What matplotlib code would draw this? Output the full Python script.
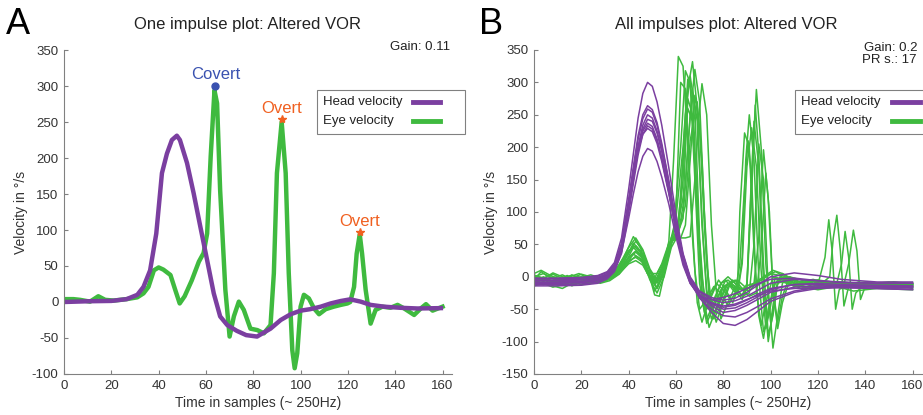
import matplotlib
matplotlib.use("Agg")
import matplotlib.pyplot as plt
from matplotlib.lines import Line2D
from matplotlib.patches import Rectangle

plt.rcParams['font.family'] = ['Liberation Sans', 'DejaVu Sans']
plt.rcParams['axes.unicode_minus'] = False

PURPLE = "#7b3fa0"
GREEN = "#3fba3f"
BLUE = "#3a52b0"
ORANGE = "#f06020"
GREY = "#333333"

# ---- panel A: one impulse ----
head_a_t = [0, 10, 20, 26.5, 31, 33.6, 36.4, 39, 41.4, 43.5, 45.6, 47.7, 49, 52, 54.8, 57.6,
            60.5, 63.3, 66, 69, 73, 77, 81.6, 87.3, 91.6, 95.8, 100, 104, 108.5, 112.7,
            117, 121, 125.4, 129.6, 135.3, 142, 149.4, 159.3]
head_a_v = [0, 1, 1.5, 4, 10, 21, 44, 95, 179, 206, 225, 231, 225, 193, 151, 105,
            58, 12, -20, -32, -40, -46, -48, -37, -25, -17, -12, -10, -6.5, -2,
            1.4, 3.7, 0.5, -4, -6.5, -8, -9, -8.5]

eye_a_t = [1, 4, 6.8, 11, 14.5, 17.4, 21, 26.5, 31, 33.6, 35.7, 38, 40, 42, 45, 47, 48.9,
           51, 54, 57, 59, 60.5, 62, 63.6, 64.7, 66, 68.2, 70, 71.8, 73.9, 76, 78.8,
           81.7, 84.5, 87.3, 88.7, 90, 92, 93.7, 95, 96.5, 97.5, 98.6, 100, 101.4,
           103.5, 105.7, 107.8, 110.6, 114, 117, 119.8, 121, 122.6, 123.7, 125, 126,
           127.5, 129.6, 131.7, 134.6, 138, 141, 143.8, 148, 150.8, 153, 155.8, 160]
eye_a_v = [4, 4, 3, 0.5, 8, 3, 2, 4, 6.5, 12, 21, 44, 48, 45, 37.5, 17, -2,
           8, 30, 56, 68, 95, 202, 294, 276, 155, 17, -48, -20, 0.5, -11, -37,
           -39, -43.5, -32, 40, 179, 250, 179, 40, -67, -92, -71, -6.5, 10,
           5, -9, -17, -10, -6.5, -4, -2, 0, 21, 67, 94, 67,
           17, -30, -11, -6.5, -8, -4, -9, -18, -9, -3, -12, -6.5]

covert_pts = [(64, 300)]
overt_pts = [(92, 254), (125, 97)]
gain_a = "Gain: 0.11"

# ---- panel B: all impulses ----
head_b_t = [0, 10, 20, 27, 31, 34, 37, 40, 42, 44, 46, 48, 50, 52, 54, 57, 60, 63, 66, 70,
            75, 80, 85, 90, 95, 100, 110, 120, 130, 145, 160]
head_b_1 = [-2, -2, -1, 2, 8, 22, 60, 135, 190, 245, 283, 300, 294, 270, 234, 168, 96, 36, 0, -22,
            -32, -36, -33, -24, -12, 0, 6, 2, -4, -8, -8]
head_b_2 = [-6, -6, -5, -2, 5, 18, 52, 120, 170, 218, 250, 264, 258, 238, 206, 148, 84, 32, -2, -24,
            -35, -40, -37, -30, -20, -10, -4, -6, -9, -10, -10]
head_b_3 = [-8, -8, -7, -4, 3, 15, 48, 115, 165, 212, 244, 259, 254, 234, 202, 146, 84, 30, -6, -30,
            -45, -55, -52, -44, -34, -24, -16, -14, -15, -16, -17]
head_b_4 = [-10, -10, -9, -6, 1, 13, 45, 110, 156, 202, 234, 250, 245, 225, 195, 140, 80, 28, -4, -27,
            -40, -47, -44, -36, -26, -18, -12, -12, -14, -15, -16]
head_b_5 = [-12, -12, -11, -8, -1, 10, 40, 105, 150, 196, 228, 243, 240, 222, 194, 142, 84, 34, -2, -32,
            -55, -72, -75, -66, -52, -38, -24, -18, -16, -18, -20]
head_b_6 = [-5, -5, -4, -1, 5, 16, 46, 108, 152, 195, 225, 237, 232, 213, 184, 132, 74, 24, -8, -33,
            -50, -60, -62, -55, -45, -34, -22, -16, -14, -14, -15]
head_b_7 = [-14, -14, -13, -10, -3, 8, 36, 98, 144, 188, 220, 233, 228, 210, 182, 130, 72, 22, -10, -30,
            -35, -32, -26, -18, -10, -4, -2, -6, -8, -10, -10]
head_b_8 = [-3, -3, -2, 1, 7, 19, 50, 112, 154, 196, 220, 229, 224, 206, 178, 128, 72, 24, -6, -28,
            -42, -50, -48, -40, -30, -20, -12, -10, -12, -13, -14]
head_b_9 = [-9, -9, -8, -5, 1, 12, 38, 90, 128, 162, 186, 198, 194, 178, 154, 112, 62, 18, -10, -30,
            -40, -45, -42, -35, -28, -22, -18, -17, -17, -18, -19]
head_b = [head_b_1, head_b_2, head_b_3, head_b_4, head_b_5, head_b_6, head_b_7, head_b_8, head_b_9]

eye_b_1 = [(0, -5), (3, 8), (6, 0), (10, -6), (14, 2), (18, -4), (22, -2), (26, -3), (30, 0), (34, 8),
           (38, 30), (42, 62), (45, 45), (48, 10), (51, -22), (54, 0), (57, 55), (59, 180), (61, 340),
           (63, 325), (65, 210), (67, 60), (69, -40), (71, -70), (74, -35), (77, -10), (80, -20),
           (83, -35), (86, -25), (88, 20), (90, 170), (92, 230), (94, 170), (96, 10), (98, -80),
           (100, -45), (102, 0), (105, -5), (110, -15), (115, -10), (120, -5), (125, -10), (130, -12),
           (140, -8), (150, -12), (160, -15)]
eye_b_2 = [(0, -12), (4, -8), (8, -14), (12, -18), (16, -10), (20, -8), (25, -6), (30, -4), (34, 5),
           (38, 22), (42, 52), (45, 40), (48, 12), (51, -28), (53, -30), (56, 20), (59, 70), (62, 200),
           (64, 318), (66, 300), (68, 150), (70, -10), (72, -55), (75, -30), (78, -5), (81, -20),
           (84, -40), (86, -20), (87, 100), (89, 222), (91, 200), (93, 40), (95, -60), (97, -95),
           (99, -50), (102, -10), (106, 0), (110, -10), (115, -18), (120, -12), (123, 30), (124.6, 88),
           (126, 40), (127.5, -50), (129, -20), (132, -10), (140, -15), (150, -10), (160, -18)]
eye_b_3 = [(0, 5), (3, 10), (7, 2), (11, -4), (15, 0), (19, 5), (23, -2), (27, -6), (31, -2), (35, 12),
           (39, 35), (42, 48), (45, 38), (48, 8), (51, -12), (54, 10), (57, 45), (60, 90), (63, 200),
           (65, 305), (67, 280), (69, 120), (71, -20), (73, -65), (76, -40), (79, -10), (82, -5),
           (85, -15), (88, -30), (90, -10), (92, 150), (94, 289), (96, 200), (98, 20), (100, -70),
           (102, -20), (105, 5), (109, -5), (113, -12), (118, -5), (124, -8), (130, -15), (140, -12),
           (150, -8), (160, -10)]
eye_b_4 = [(0, -8), (5, -3), (9, -10), (13, -5), (17, -12), (21, -6), (26, -8), (30, -5), (34, 2),
           (38, 18), (42, 45), (45, 35), (48, 5), (51, -8), (54, 15), (57, 50), (60, 62), (62, 120),
           (64, 250), (66, 310), (68, 260), (70, 60), (72, -40), (74, -78), (77, -50), (80, -15),
           (83, -10), (86, -25), (88, 30), (89.5, 180), (91, 250), (93, 180), (95, 0), (97, -85),
           (99, -60), (101, -15), (104, 0), (108, -10), (114, -20), (120, -15), (125, 0), (126.5, 60),
           (128, 95), (129.5, 40), (131, -45), (133, -15), (137, -8), (145, -15), (152, -8), (160, -12)]
eye_b_5 = [(0, -3), (4, -6), (8, -2), (12, -8), (16, -3), (20, -5), (24, -4), (28, -8), (32, -3),
           (36, 10), (40, 30), (43, 40), (46, 30), (49, 0), (52, -5), (55, 20), (58, 55), (61, 75),
           (63, 150), (65, 290), (67, 332), (69, 260), (71, 80), (73, -20), (75, -55), (78, -30),
           (81, -5), (84, -20), (87, -30), (90, -20), (93, -10), (95, 60), (97, 196), (99, 120),
           (101, -20), (103, -70), (105, -30), (108, 0), (112, -8), (118, -15), (124, -10),
           (130, -18), (140, -12), (150, -15), (160, -12)]
eye_b_6 = [(0, -10), (4, -4), (8, -12), (12, -6), (16, -14), (20, -8), (25, -10), (30, -6), (34, 0),
           (38, 15), (42, 35), (45, 28), (48, 5), (51, -2), (54, 20), (57, 52), (60, 60), (63, 90),
           (65, 200), (67, 290), (69, 240), (71, 90), (73, -30), (75, -65), (78, -40), (81, -15),
           (84, -5), (87, -20), (90, -15), (91.5, 120), (93, 240), (95, 170), (97, -10), (99, -100),
           (101, -55), (103, -5), (107, -10), (112, -15), (118, -8), (124, -12), (128, -10), (130, 20),
           (131.5, 70), (133, 30), (134.5, -50), (136, -25), (140, -10), (150, -15), (160, -10)]
eye_b_7 = [(0, 2), (4, -2), (8, 4), (12, -3), (16, 2), (20, -1), (24, 3), (28, -2), (32, 2), (36, 10),
           (40, 25), (43, 30), (46, 22), (49, 5), (52, 5), (55, 25), (58, 55), (62, 60), (64, 80),
           (66, 180), (68, 280), (70, 230), (72, 80), (74, -30), (76, -60), (79, -35), (82, -10),
           (85, -15), (88, -30), (91, -25), (93, 50), (95, 205), (97, 150), (99, -20), (101, -110),
           (103, -60), (105, -10), (108, 0), (113, -5), (119, -12), (125, -8), (132, -12), (140, -15),
           (150, -10), (160, -13)]
eye_b_8 = [(0, -14), (4, -10), (8, -16), (12, -12), (16, -8), (20, -12), (24, -10), (28, -8), (32, -4),
           (36, 5), (40, 20), (43, 25), (46, 18), (49, -2), (52, -18), (55, 10), (58, 58), (61, 60),
           (64, 60), (66, 62), (68, 150), (70, 260), (71, 298), (73, 250), (75, 80), (77, -20),
           (79, -65), (82, -40), (85, -15), (88, -20), (91, -30), (94, -25), (96, 40), (98, 160),
           (99.5, 100), (101, -20), (103, -80), (105, -40), (108, -5), (113, -15), (120, -20),
           (128, -15), (135, -22), (145, -18), (160, -20)]
eye_b_9 = [(0, 0), (4, 5), (8, -2), (12, 3), (16, -4), (20, 0), (24, -3), (28, 0), (32, 3), (36, 15),
           (40, 40), (43, 48), (46, 35), (49, 10), (52, -10), (55, 10), (58, 50), (61, 80), (63, 180),
           (65, 260), (67, 240), (69, 100), (71, 0), (73, -50), (76, -35), (79, -10), (82, 0),
           (85, -10), (88, -20), (92, -15), (96, -5), (100, 5), (104, 2), (108, -8), (114, -12),
           (120, -10), (126, -15), (131, -12), (133, 20), (135, 72), (136.5, 40), (138, -35),
           (140, -15), (146, -10), (152, -14), (160, -12)]
eye_b_10 = [(0, -6), (4, 0), (8, -8), (12, -2), (16, -6), (20, -3), (24, -8), (28, -4), (32, 0),
            (36, 12), (40, 28), (43, 38), (46, 28), (49, 0), (52, -8), (55, 15), (58, 52), (61, 70),
            (64, 110), (66, 210), (69, 270), (71, 180), (73, 20), (75, -40), (77, -70), (80, -40),
            (83, -10), (86, -5), (89, -15), (93, -10), (97, 0), (101, 10), (105, 5), (110, -5),
            (115, -10), (120, -5), (126, -8), (132, -15), (140, -10), (150, -12), (160, -16)]
eye_b_11 = [(0, -2), (4, -7), (8, 0), (12, -5), (16, 3), (20, -4), (24, -1), (28, -5), (32, 1),
            (36, 14), (40, 36), (43, 55), (46, 40), (49, 8), (52, -18), (55, 5), (58, 48), (60, 95),
            (62, 300), (64, 290), (66, 140), (68, 10), (70, -50), (73, -35), (76, -15), (79, -25),
            (82, -45), (85, -25), (87, 20), (89, 140), (90.5, 210), (92, 150), (94, -20), (96, -75),
            (98, -40), (101, 0), (105, -8), (110, -12), (118, -6), (126, -12), (135, -10), (145, -14),
            (160, -13)]
eye_b_12 = [(0, -9), (4, -12), (8, -6), (12, -10), (16, -5), (20, -9), (24, -6), (28, -10), (32, -6),
            (36, 4), (40, 22), (43, 32), (46, 25), (49, -5), (52, -25), (55, 0), (58, 45), (61, 65),
            (63, 110), (65, 275), (67, 250), (69, 90), (71, -30), (73, -72), (76, -45), (79, -20),
            (82, -10), (85, -20), (88, -35), (90, -15), (92, 130), (93.5, 265), (95, 190), (97, 20),
            (99, -90), (101, -60), (103, -10), (107, -5), (112, -14), (118, -18), (125, -10),
            (132, -14), (142, -18), (152, -12), (160, -15)]
eye_b_13 = [(0, 3), (4, -3), (8, 6), (12, 0), (16, -2), (20, 4), (24, 0), (28, -3), (32, 4), (36, 18),
            (40, 45), (43, 60), (46, 42), (49, 12), (52, -5), (55, 18), (58, 60), (61, 85), (64, 140),
            (66, 250), (68, 320), (70, 270), (72, 100), (74, -20), (76, -65), (79, -45), (82, -15),
            (85, -5), (88, -18), (91, -22), (94, -10), (98, 0), (102, 8), (106, 0), (112, -8),
            (118, -4), (124, -10), (130, -8), (140, -12), (150, -9), (160, -11)]
eye_b = [eye_b_1, eye_b_2, eye_b_3, eye_b_4, eye_b_5, eye_b_6, eye_b_7, eye_b_8, eye_b_9, eye_b_10,
         eye_b_11, eye_b_12, eye_b_13]
gain_b = "Gain: 0.2\nPR s.: 17"

legend_labels = ["Head velocity", "Eye velocity"]
W, H = 923, 415


def px(x, y):
    return x / W, 1 - y / H


def style_axes(ax, ymin, ymax):
    ax.set_xlim(0, 164)
    ax.set_ylim(ymin, ymax)
    ax.set_xticks(range(0, 161, 20))
    ax.set_yticks(range(ymin, ymax + 1, 50))
    for s in ["top", "right"]:
        ax.spines[s].set_visible(False)
    for s in ["left", "bottom"]:
        ax.spines[s].set_color("#808080")
        ax.spines[s].set_linewidth(0.8)
    ax.tick_params(direction="in", length=3, color="#808080", labelsize=9.5, labelcolor=GREY, pad=4)
    ax.set_xlabel("Time in samples (~ 250Hz)", fontsize=10, color=GREY, labelpad=3)
    ax.set_ylabel("Velocity in °/s", fontsize=10, color=GREY, labelpad=3)


def draw_legend(x0, x1, hx0, hx1):
    # box drawn by hand so text sits left and line samples sit right
    y0, y1 = 90, 134
    fig.patches.append(Rectangle(px(x0, y1), (x1 - x0) / W, (y1 - y0) / H, transform=fig.transFigure,
                                 facecolor="white", edgecolor="#808080", lw=0.8, zorder=5))
    for lab, col, yy in zip(legend_labels, [PURPLE, GREEN], [102, 121]):
        fig.text(*px(x0 + 6, yy), lab, fontsize=9.5, color="#222222", ha="left", va="center", zorder=6)
        fig.lines.append(Line2D([hx0 / W, hx1 / W], [1 - yy / H] * 2, transform=fig.transFigure,
                                color=col, lw=3.5, zorder=6))


fig = plt.figure(figsize=(9.23, 4.15), dpi=100)
ax_a = fig.add_axes([64 / W, 1 - 374 / H, 388 / W, 324 / H])
ax_b = fig.add_axes([534 / W, 1 - 374 / H, 388 / W, 324 / H])

# panel A
style_axes(ax_a, -100, 350)
ax_a.plot(eye_a_t, eye_a_v, color=GREEN, lw=3.2, solid_joinstyle="round")
ax_a.plot(head_a_t, head_a_v, color=PURPLE, lw=3.2, solid_joinstyle="round")
for x, y in covert_pts:
    ax_a.plot(x, y, "o", color=BLUE, ms=5)
    ax_a.text(x, y + 5, "Covert", color=BLUE, fontsize=12, ha="center", va="bottom")
for x, y in overt_pts:
    ax_a.plot(x, y, "*", color=ORANGE, ms=6)
    ax_a.text(x, y + 4, "Overt", color=ORANGE, fontsize=12, ha="center", va="bottom")
fig.text(*px(247.5, 24), "One impulse plot: Altered VOR", fontsize=12, color="#222222",
         ha="center", va="center")
fig.text(*px(450, 47), gain_a, ha="right", va="center", fontsize=9.5, color="#222222")
fig.text(*px(6, 25), "A", fontsize=26, ha="left", va="center")
draw_legend(317, 465, 413, 440)

# panel B
style_axes(ax_b, -150, 350)
for tr in eye_b:
    ax_b.plot([p[0] for p in tr], [p[1] for p in tr], color=GREEN, lw=1.1)
for tr in head_b:
    ax_b.plot(head_b_t, tr, color=PURPLE, lw=1.1)
fig.text(*px(726, 24), "All impulses plot: Altered VOR", fontsize=12, color="#222222",
         ha="center", va="center")
fig.text(*px(917, 54), gain_b, ha="right", va="center", fontsize=9.5, color="#222222",
         linespacing=1.0)
fig.text(*px(479, 25), "B", fontsize=26, ha="left", va="center")
draw_legend(795, 930, 892, 920)

fig.savefig("out.png", dpi=100)
